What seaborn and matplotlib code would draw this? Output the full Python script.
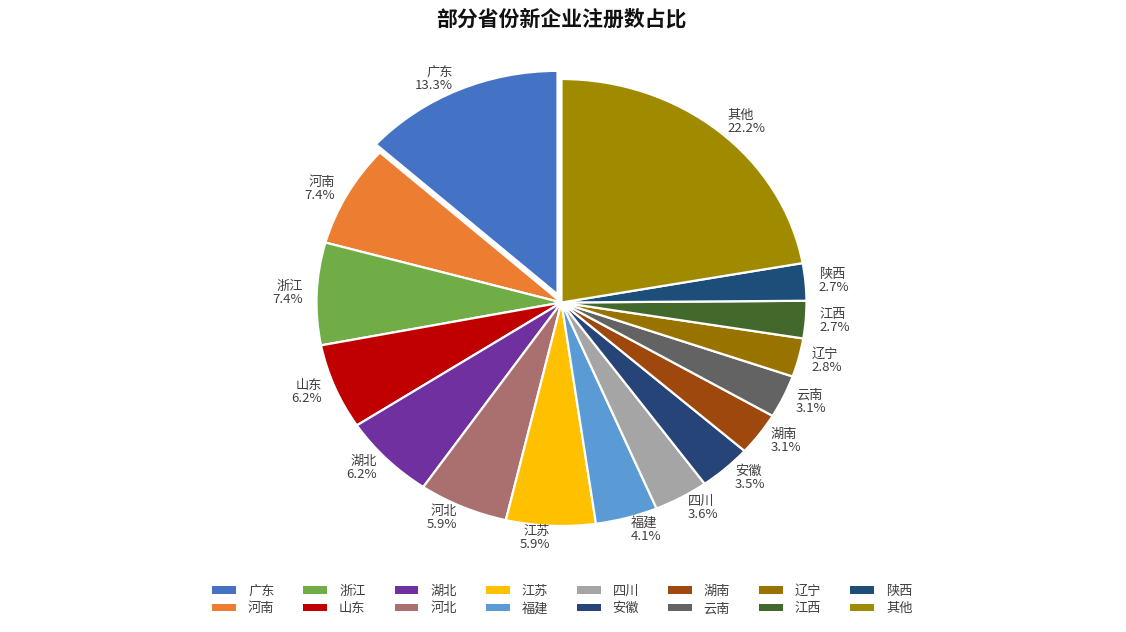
import matplotlib
matplotlib.use("Agg")
import matplotlib.pyplot as plt
from matplotlib.patches import Patch
import seaborn as sns

# ---- data ----
provinces = ["广东", "河南", "浙江", "山东", "湖北", "河北", "江苏", "福建",
             "四川", "安徽", "湖南", "云南", "辽宁", "江西", "陕西", "其他"]
shares = [13.3, 7.4, 7.4, 6.2, 6.2, 5.9, 5.9, 4.1,
          3.6, 3.5, 3.1, 3.1, 2.8, 2.7, 2.7, 22.2]
colors = ["#4472C4", "#ED7D31", "#70AD47", "#C00000", "#7030A0", "#A9706F",
          "#FFC000", "#5B9BD5", "#A5A5A5", "#264478", "#9E480E", "#636363",
          "#997300", "#43682B", "#1D4E79", "#A08A00"]
title = "部分省份新企业注册数占比"

sns.set_theme(style="white")
plt.rcParams["font.family"] = ["Noto Sans CJK SC", "DejaVu Sans"]

fig = plt.figure(figsize=(11.26, 6.32), dpi=100)
ax = fig.add_axes([0.2158, 0.097, 0.5657, 0.8487])

explode = [0.04 if p == "广东" else 0.0 for p in provinces]
labels = [f"{p}\n{v:.1f}%" for p, v in zip(provinces, shares)]

wedges, texts = ax.pie(
    shares, labels=labels, colors=colors, explode=explode,
    startangle=90, counterclock=True, labeldistance=1.055,
    wedgeprops=dict(edgecolor="white", linewidth=1.6),
    textprops=dict(fontsize=9.5, color="#404040", linespacing=1.0),
)
ax.set_aspect("auto")
ax.set_xlim(-1.3, 1.3)
ax.set_ylim(-1.2, 1.2)
ax.axis("off")

fig.suptitle(title, x=0.4987, y=1 - 19.5 / 632, va="center",
             fontsize=15, fontweight="bold", color="#111111")

handles = [Patch(facecolor=c, edgecolor="none") for c in colors]
leg = fig.legend(handles, provinces, loc="center", bbox_to_anchor=(0.4995, 1 - 600 / 632),
                 ncol=8, frameon=False, fontsize=9.5, handlelength=1.8,
                 handleheight=0.45, handletextpad=0.9, columnspacing=2.2,
                 labelspacing=0.35)
for t in leg.get_texts():
    t.set_color("#404040")

fig.savefig("out.png", dpi=100, facecolor="white")
